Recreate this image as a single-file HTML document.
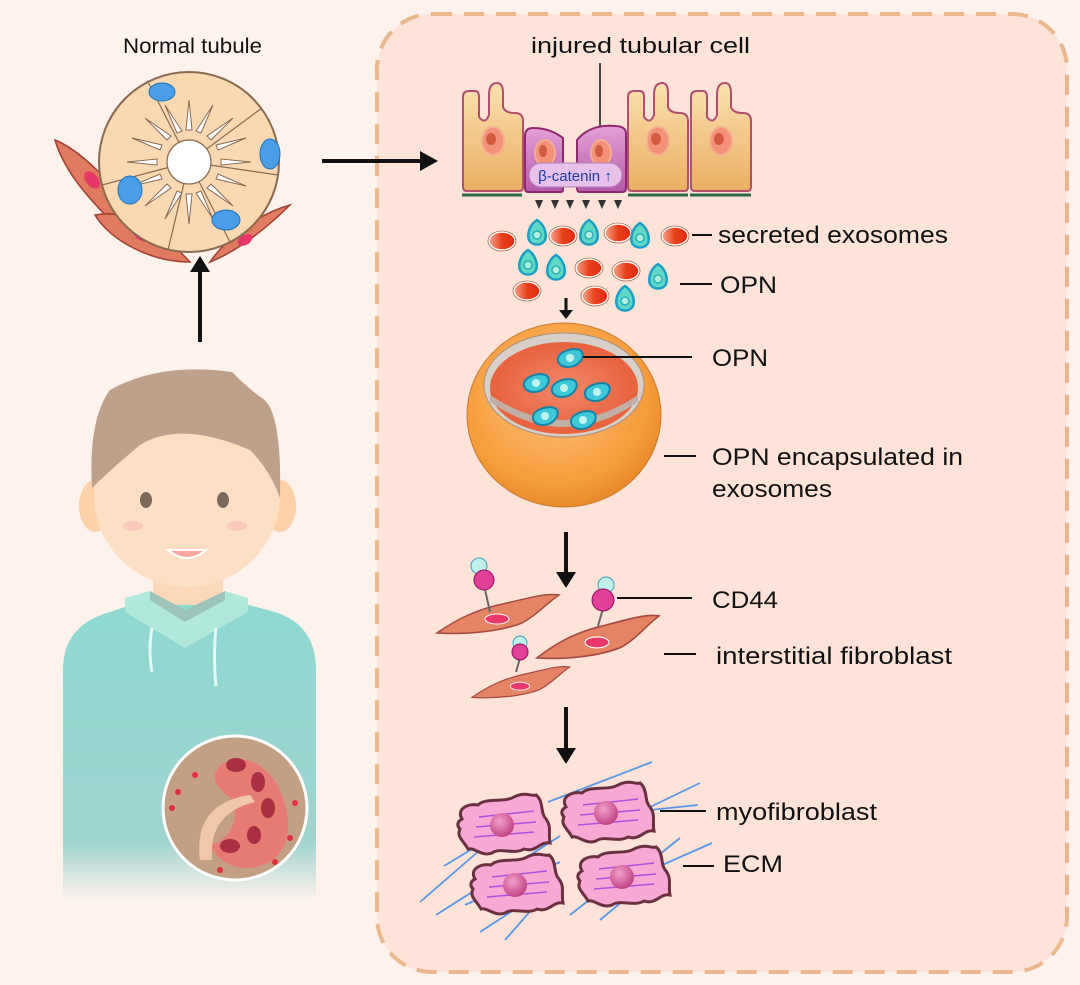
<!DOCTYPE html>
<html><head><meta charset="utf-8"><style>
html,body{margin:0;padding:0;background:#fdf2ec}
svg{display:block}
text{font-family:"Liberation Sans",sans-serif;fill:#111}
</style></head><body>
<svg width="1080" height="985" viewBox="0 0 1080 985" xmlns="http://www.w3.org/2000/svg">
<defs>
<linearGradient id="body" x1="0" y1="0" x2="0" y2="1"><stop offset="0" stop-color="#8fd8d2"/><stop offset="0.8" stop-color="#9fd3cf"/><stop offset="1" stop-color="#fdf2ec"/></linearGradient>
<linearGradient id="cellY" x1="0" y1="0" x2="0" y2="1"><stop offset="0" stop-color="#fbe0b0"/><stop offset="1" stop-color="#e9b062"/></linearGradient>
<linearGradient id="cellP" x1="0" y1="0" x2="0" y2="1"><stop offset="0" stop-color="#e4a0d8"/><stop offset="1" stop-color="#b45aa8"/></linearGradient>
<linearGradient id="red" x1="0" y1="0" x2="1" y2="0"><stop offset="0" stop-color="#f7a58e"/><stop offset="0.5" stop-color="#e8401a"/><stop offset="1" stop-color="#e02a10"/></linearGradient>
<radialGradient id="ball" cx="0.45" cy="0.4" r="0.7"><stop offset="0" stop-color="#ffc27a"/><stop offset="0.7" stop-color="#f59b3a"/><stop offset="1" stop-color="#e07a20"/></radialGradient>
<radialGradient id="inner" cx="0.5" cy="0.5" r="0.6"><stop offset="0" stop-color="#f0886a"/><stop offset="1" stop-color="#e65a34"/></radialGradient>
<radialGradient id="nuc" cx="0.4" cy="0.35" r="0.7"><stop offset="0" stop-color="#f3a0cc"/><stop offset="1" stop-color="#c03c80"/></radialGradient>
<g id="exo"><ellipse cx="0" cy="0" rx="13" ry="9" fill="url(#red)" stroke="#fff" stroke-width="1.5"/><ellipse cx="0" cy="0" rx="14" ry="10" fill="none" stroke="#a56a50" stroke-width="0.8"/></g>
<g id="opn"><path d="M0,-13 C8,-8 10,2 8,7 C5,13 -5,13 -8,7 C-10,2 -8,-8 0,-13Z" fill="#5fd8c8" stroke="#1a9fc4" stroke-width="2.5"/><circle cx="0" cy="2" r="4" fill="#aef0e4" stroke="#2bb0b0" stroke-width="1.5"/></g>
<g id="opn2"><path d="M-12,0 C-10,-8 8,-12 12,-6 C15,0 8,9 -2,9 C-9,9 -13,5 -12,0Z" fill="#3ec8d8" stroke="#1582a8" stroke-width="2"/><circle cx="0" cy="0" r="4" fill="#bff4ef"/></g>
<g id="yc"><path d="M-30,60 L-30,-30 Q-30,-36 -24,-36 L-18,-36 Q-14,-36 -14,-30 L-14,-10 Q-8,-2 -4,-12 L-4,-32 Q-4,-44 4,-44 Q10,-44 10,-34 L10,-20 Q12,-14 22,-14 Q30,-14 30,-6 L30,60 Q30,64 26,64 L-26,64 Q-30,64 -30,60Z" fill="url(#cellY)" stroke="#b04f70" stroke-width="2"/><ellipse cx="0" cy="14" rx="11" ry="14" fill="#f5907a" stroke="#f3b090" stroke-width="2"/><ellipse cx="-2" cy="12" rx="5" ry="6" fill="#d05a40"/></g>
<g id="fibro"><path d="M-60,18 C-40,4 -20,-6 10,-12 C35,-18 50,-22 62,-20 C50,-12 40,0 25,8 C5,16 -30,20 -60,18Z" fill="#e58464" stroke="#a44a40" stroke-width="1.5"/><ellipse cx="0" cy="4" rx="12" ry="5" fill="#e8386a" stroke="#fff" stroke-width="1"/></g>
<g id="myo"><path d="M-42,-6 C-48,-16 -36,-22 -26,-20 C-18,-28 0,-22 10,-28 C22,-34 28,-28 32,-30 C40,-24 36,-12 42,-6 C48,2 44,8 46,18 C36,16 32,28 20,24 C10,30 -4,22 -12,28 C-22,32 -30,22 -36,24 C-40,16 -48,12 -44,4 C-48,0 -46,-4 -42,-6Z" fill="#f7a8d4" stroke="#6a3040" stroke-width="3"/><g stroke="#b050e0" stroke-width="1.5"><line x1="-25" y1="-8" x2="30" y2="-14"/><line x1="-28" y1="2" x2="32" y2="-3"/><line x1="-30" y1="12" x2="30" y2="7"/></g><circle cx="-2" cy="0" r="12" fill="url(#nuc)"/></g>
</defs>
<rect width="1080" height="985" fill="#fdf2ec"/>
<rect x="377" y="14" width="690" height="958" rx="55" fill="#fde3d8" stroke="#eab88c" stroke-width="4" stroke-dasharray="20 12"/>

<!-- Normal tubule -->
<text x="123" y="53" font-size="21" textLength="139" lengthAdjust="spacingAndGlyphs">Normal tubule</text>
<g>
<path d="M55,140 C80,150 110,180 150,230 C160,245 140,248 125,235 C95,205 65,175 55,140Z" fill="#e07a60" stroke="#a04030" stroke-width="1.5"/>
<ellipse cx="92" cy="180" rx="6" ry="10" fill="#e8386a" transform="rotate(-40 92 180)"/>
<path d="M95,215 C130,208 160,230 190,262 C150,262 110,240 95,215Z" fill="#e07a60" stroke="#a04030" stroke-width="1.5"/>
<ellipse cx="143" cy="236" rx="9" ry="5" fill="#e8386a" transform="rotate(20 143 236)"/>
<path d="M290,205 C270,225 240,250 210,262 C225,240 255,215 290,205Z" fill="#e07a60" stroke="#a04030" stroke-width="1.5"/>
<ellipse cx="245" cy="240" rx="8" ry="5" fill="#e8386a" transform="rotate(-30 245 240)"/>
<circle cx="189" cy="162" r="90" fill="#fad9b2" stroke="#8a6a50" stroke-width="2"/>
<g stroke="#8a6a50" stroke-width="1.2" fill="none"><line x1="189" y1="162" x2="148" y2="82"/><line x1="189" y1="162" x2="262" y2="108"/><line x1="189" y1="162" x2="278" y2="175"/><line x1="189" y1="162" x2="230" y2="242"/><line x1="189" y1="162" x2="168" y2="250"/><line x1="189" y1="162" x2="102" y2="185"/></g>
<g stroke="#8a6a50" stroke-width="1" fill="#fff">
<path d="M189,162 m0,-62 l3,30 l-6,0z"/><path d="M189,162 m44,-44 l-22,22 l-4,-4z"/><path d="M189,162 m62,0 l-30,3 l0,-6z"/><path d="M189,162 m44,44 l-22,-22 l-4,4z"/><path d="M189,162 m0,62 l3,-30 l-6,0z"/><path d="M189,162 m-44,44 l22,-22 l4,4z"/><path d="M189,162 m-62,0 l30,3 l0,-6z"/><path d="M189,162 m-44,-44 l22,22 l4,-4z"/>
<path d="M189,162 m24,-57 l-12,28 l-5,-2z"/><path d="M189,162 m57,-24 l-28,12 l-2,-5z"/><path d="M189,162 m57,24 l-28,-12 l-2,5z"/><path d="M189,162 m24,57 l-12,-28 l-5,2z"/><path d="M189,162 m-24,57 l12,-28 l5,2z"/><path d="M189,162 m-57,24 l28,-12 l2,5z"/><path d="M189,162 m-57,-24 l28,12 l2,-5z"/><path d="M189,162 m-24,-57 l12,28 l5,-2z"/>
</g>
<circle cx="189" cy="162" r="22" fill="#fff" stroke="#8a6a50" stroke-width="1.2"/>
<g fill="#4a9ee8" stroke="#2070c0" stroke-width="1"><ellipse cx="162" cy="92" rx="13" ry="9"/><ellipse cx="270" cy="154" rx="10" ry="15"/><ellipse cx="130" cy="190" rx="12" ry="14"/><ellipse cx="226" cy="220" rx="14" ry="10"/></g>
</g>
<line x1="200" y1="342" x2="200" y2="270" stroke="#111" stroke-width="4"/><path d="M190,272 L200,256 L210,272Z" fill="#111"/>
<line x1="322" y1="161" x2="425" y2="161" stroke="#111" stroke-width="4"/><path d="M420,151 L438,161 L420,171Z" fill="#111"/>

<!-- Person -->
<path d="M63,900 L63,670 Q63,625 110,612 L145,600 L230,600 L275,612 Q316,625 316,670 L316,900Z" fill="url(#body)"/>
<rect x="153" y="560" width="70" height="45" fill="#fcd8b8"/>
<path d="M125,598 L150,591 L185,620 L225,591 L248,598 L248,612 L185,648 L125,612Z" fill="#b2e8dc"/>
<path d="M150,591 L185,610 L225,591 L225,600 L185,622 L150,600Z" fill="#9cc4b8"/>
<path d="M152,628 Q148,650 152,672" stroke="#e8f6f4" stroke-width="3" fill="none"/><path d="M216,628 Q213,655 216,686" stroke="#e8f6f4" stroke-width="3" fill="none"/>
<ellipse cx="95" cy="506" rx="16" ry="26" fill="#fcd0a8"/><ellipse cx="280" cy="506" rx="16" ry="26" fill="#fcd0a8"/>
<ellipse cx="187" cy="495" rx="93" ry="92" fill="#fde0c4"/>
<path d="M92,488 Q88,420 110,390 Q160,362 232,372 Q250,390 262,398 Q282,410 280,498 Q270,470 250,450 Q180,420 140,445 Q110,470 92,488Z" fill="#bfa08a"/>
<ellipse cx="146" cy="500" rx="6" ry="8" fill="#7a6858"/><ellipse cx="223" cy="500" rx="6" ry="8" fill="#7a6858"/>
<ellipse cx="133" cy="526" rx="10" ry="5" fill="#f8b8b0" opacity="0.6"/><ellipse cx="237" cy="526" rx="10" ry="5" fill="#f8b8b0" opacity="0.6"/>
<path d="M168,550 Q187,566 206,550Z" fill="#f6a8a0" stroke="#fff" stroke-width="2"/>
<circle cx="235" cy="808" r="72" fill="#c4a082" stroke="#fff" stroke-width="3"/>
<path d="M222,764 C260,745 290,790 288,830 C285,875 225,880 210,845 C230,840 240,820 232,800 C222,790 205,780 222,764Z" fill="#e87a74"/>
<path d="M200,860 C195,820 215,800 250,795 L255,802 C222,810 210,830 212,860Z" fill="#f0c8a8"/>
<g fill="#a83040"><ellipse cx="236" cy="765" rx="10" ry="7"/><ellipse cx="258" cy="782" rx="7" ry="10"/><ellipse cx="268" cy="808" rx="7" ry="10"/><ellipse cx="254" cy="835" rx="7" ry="9"/><ellipse cx="230" cy="846" rx="10" ry="7"/></g>
<g fill="#e03040"><circle cx="195" cy="775" r="3"/><circle cx="178" cy="792" r="3"/><circle cx="172" cy="808" r="3"/><circle cx="295" cy="803" r="3"/><circle cx="290" cy="838" r="3"/><circle cx="275" cy="862" r="3"/><circle cx="220" cy="870" r="3"/></g>

<!-- injured tubular cells -->
<text x="531" y="53" font-size="22" textLength="219" lengthAdjust="spacingAndGlyphs">injured tubular cell</text>
<line x1="600" y1="63" x2="600" y2="133" stroke="#111" stroke-width="1.5"/>
<use href="#yc" transform="translate(493,127)"/>
<use href="#yc" transform="translate(658,127)"/>
<use href="#yc" transform="translate(721,127)"/>
<path d="M525,136 Q525,128 533,128 Q550,128 563,138 L563,190 Q563,192 560,192 L528,192 Q525,192 525,188Z" fill="url(#cellP)" stroke="#902870" stroke-width="2"/>
<path d="M577,140 Q590,124 615,126 Q626,126 626,134 L626,188 Q626,192 622,192 L580,192 Q577,192 577,188Z" fill="url(#cellP)" stroke="#902870" stroke-width="2"/>
<ellipse cx="545" cy="153" rx="10" ry="13" fill="#f5907a" stroke="#f3b090" stroke-width="2"/><ellipse cx="543" cy="151" rx="4" ry="6" fill="#d05a40"/>
<ellipse cx="601" cy="153" rx="10" ry="13" fill="#f5907a" stroke="#f3b090" stroke-width="2"/><ellipse cx="599" cy="151" rx="4" ry="6" fill="#d05a40"/>
<rect x="529" y="163" width="93" height="24" rx="12" fill="#e8c0ec" stroke="#b080b0" stroke-width="1"/>
<text x="575" y="181" font-size="15" text-anchor="middle" style="fill:#1a3aa0">β-catenin ↑</text>
<g stroke="#2a6a40" stroke-width="3"><line x1="462" y1="195" x2="522" y2="195"/><line x1="628" y1="195" x2="688" y2="195"/><line x1="690" y1="195" x2="751" y2="195"/></g>
<g fill="#333"><path d="M535,200h8l-4,9z"/><path d="M551,200h8l-4,9z"/><path d="M566,200h8l-4,9z"/><path d="M582,200h8l-4,9z"/><path d="M598,200h8l-4,9z"/><path d="M614,200h8l-4,9z"/></g>
<use href="#exo" transform="translate(502,241)"/><use href="#exo" transform="translate(563,236)"/><use href="#exo" transform="translate(618,233)"/><use href="#exo" transform="translate(675,236)"/>
<use href="#exo" transform="translate(589,268)"/><use href="#exo" transform="translate(626,271)"/><use href="#exo" transform="translate(527,291)"/><use href="#exo" transform="translate(595,296)"/>
<use href="#opn" transform="translate(537,233)"/><use href="#opn" transform="translate(589,233)"/><use href="#opn" transform="translate(640,236)"/>
<use href="#opn" transform="translate(528,263)"/><use href="#opn" transform="translate(556,268)"/><use href="#opn" transform="translate(658,277)"/><use href="#opn" transform="translate(625,299)"/>
<text x="718" y="243" font-size="24" textLength="230" lengthAdjust="spacingAndGlyphs">secreted exosomes</text><line x1="692" y1="235" x2="712" y2="235" stroke="#111" stroke-width="2"/>
<text x="720" y="293" font-size="24" textLength="57" lengthAdjust="spacingAndGlyphs">OPN</text><line x1="680" y1="284" x2="712" y2="284" stroke="#111" stroke-width="2"/>
<line x1="566" y1="298" x2="566" y2="312" stroke="#111" stroke-width="3"/><path d="M559,310h14l-7,9z" fill="#111"/>

<!-- big exosome -->
<ellipse cx="564" cy="415" rx="97" ry="92" fill="url(#ball)" stroke="#c87a30" stroke-width="1"/>
<ellipse cx="564" cy="385" rx="80" ry="52" fill="#d8d0c8" stroke="#a89080" stroke-width="1"/>
<ellipse cx="564" cy="388" rx="74" ry="46" fill="url(#inner)"/>
<path d="M490,395 Q564,445 638,395 L638,402 Q564,452 490,402Z" fill="#c0b0a8"/>
<use href="#opn2" transform="translate(570,358)"/><use href="#opn2" transform="translate(536,383)"/><use href="#opn2" transform="translate(564,388)"/><use href="#opn2" transform="translate(597,392)"/><use href="#opn2" transform="translate(545,416)"/><use href="#opn2" transform="translate(583,420)"/>
<line x1="583" y1="357" x2="692" y2="357" stroke="#111" stroke-width="2"/><text x="712" y="366" font-size="24" textLength="56" lengthAdjust="spacingAndGlyphs">OPN</text>
<line x1="664" y1="456" x2="696" y2="456" stroke="#111" stroke-width="2"/><text x="712" y="465" font-size="24" textLength="251" lengthAdjust="spacingAndGlyphs">OPN encapsulated in</text><text x="712" y="497" font-size="24" textLength="120" lengthAdjust="spacingAndGlyphs">exosomes</text>
<line x1="566" y1="532" x2="566" y2="575" stroke="#111" stroke-width="4"/><path d="M556,572h20l-10,16z" fill="#111"/>

<!-- fibroblasts -->
<use href="#fibro" transform="translate(497,615)"/>
<use href="#fibro" transform="translate(597,638) scale(1,1.1)"/>
<use href="#fibro" transform="translate(520,683) scale(0.8,0.8)"/>
<g stroke="#666" stroke-width="2"><line x1="484" y1="585" x2="490" y2="612"/><line x1="604" y1="605" x2="598" y2="626"/><line x1="520" y1="658" x2="516" y2="672"/></g>
<circle cx="479" cy="566" r="8" fill="#bff0ec" stroke="#40a0c0"/><circle cx="484" cy="580" r="10" fill="#e0409a" stroke="#901060"/>
<circle cx="606" cy="585" r="8" fill="#bff0ec" stroke="#40a0c0"/><circle cx="603" cy="600" r="11" fill="#e0409a" stroke="#901060"/>
<circle cx="520" cy="643" r="7" fill="#bff0ec" stroke="#40a0c0"/><circle cx="520" cy="652" r="8" fill="#e0409a" stroke="#901060"/>
<line x1="617" y1="598" x2="692" y2="598" stroke="#111" stroke-width="2"/><text x="712" y="608" font-size="24" textLength="66" lengthAdjust="spacingAndGlyphs">CD44</text>
<line x1="664" y1="654" x2="696" y2="654" stroke="#111" stroke-width="2"/><text x="716" y="664" font-size="24" textLength="236" lengthAdjust="spacingAndGlyphs">interstitial  fibroblast</text>
<line x1="566" y1="707" x2="566" y2="750" stroke="#111" stroke-width="4"/><path d="M556,748h20l-10,16z" fill="#111"/>

<!-- myofibroblasts -->
<g stroke="#5a96e8" stroke-width="1.8" fill="none">
<line x1="548" y1="802" x2="652" y2="762"/><line x1="444" y1="866" x2="520" y2="820"/><line x1="420" y1="902" x2="480" y2="850"/><line x1="436" y1="915" x2="560" y2="836"/><line x1="480" y1="932" x2="560" y2="880"/><line x1="505" y1="940" x2="540" y2="900"/><line x1="570" y1="915" x2="640" y2="860"/><line x1="600" y1="920" x2="630" y2="895"/>
<line x1="648" y1="808" x2="700" y2="783"/><line x1="650" y1="810" x2="698" y2="805"/><line x1="650" y1="862" x2="680" y2="838"/><line x1="660" y1="866" x2="712" y2="843"/><line x1="465" y1="905" x2="560" y2="862"/>
</g>
<use href="#myo" transform="translate(504,825)"/>
<use href="#myo" transform="translate(608,813)"/>
<use href="#myo" transform="translate(517,885)"/>
<use href="#myo" transform="translate(624,877)"/>
<line x1="660" y1="811" x2="706" y2="811" stroke="#111" stroke-width="2"/><text x="716" y="820" font-size="24" textLength="161" lengthAdjust="spacingAndGlyphs">myofibroblast</text>
<line x1="683" y1="866" x2="714" y2="866" stroke="#111" stroke-width="2"/><text x="723" y="872" font-size="24" textLength="60" lengthAdjust="spacingAndGlyphs">ECM</text>
</svg>
</body></html>
